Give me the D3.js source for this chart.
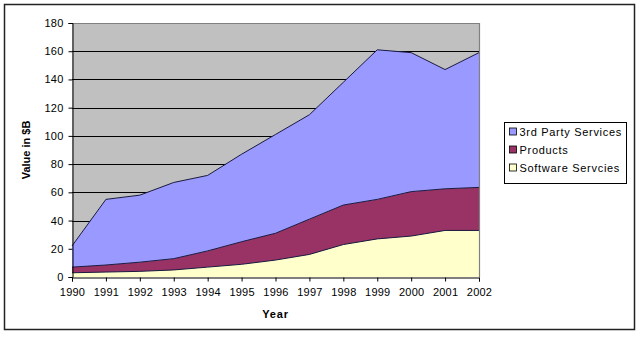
<!DOCTYPE html>
<html>
<head>
<meta charset="utf-8">
<script src="https://cdn.jsdelivr.net/npm/d3@7"></script>
<style>
  html, body { margin: 0; padding: 0; background: #fff; }
  svg { display: block; font-family: "Liberation Sans", Arial, sans-serif; }
</style>
</head>
<body>
<svg id="chart" width="640" height="337"></svg>
<script>
// Market value by segment, in $B
const years = [1990, 1991, 1992, 1993, 1994, 1995, 1996, 1997, 1998, 1999, 2000, 2001, 2002];
const softwareServices = [3, 3.5, 4, 5, 7, 9, 12, 16, 23, 27, 29, 33, 33];
const products = [4, 5, 6.5, 8, 11.5, 16, 19, 25, 28, 28, 31.5, 29.5, 30.5];
const thirdPartyServices = [15, 46.5, 47.5, 54, 53.5, 62, 70, 74, 87, 106, 98.5, 84.5, 95.5];
const yTicks = [0, 20, 40, 60, 80, 100, 120, 140, 160, 180];

const seriesNames = ["Software Servcies", "Products", "3rd Party Services"];
const seriesColors = ["#FFFFCC", "#993366", "#9999FF"];
const legendOrder = ["3rd Party Services", "Products", "Software Servcies"];

const rows = years.map((yr, i) => ({
  year: yr,
  "Software Servcies": softwareServices[i],
  "Products": products[i],
  "3rd Party Services": thirdPartyServices[i]
}));

const svg = d3.select("#chart");
const plotLeft = 72, plotRight = 479, plotTop = 23, plotBottom = 277;

const x = d3.scaleLinear().domain([years[0], years[years.length - 1]]).range([plotLeft, plotRight]);
const y = d3.scaleLinear().domain([0, 180]).range([plotBottom, plotTop]);
const color = d3.scaleOrdinal().domain(seriesNames).range(seriesColors);

// outer frame
svg.append("rect").attr("x", 4.5).attr("y", 4.5).attr("width", 630).attr("height", 325)
  .attr("fill", "#fff").attr("stroke", "#222").attr("stroke-width", 1.5);

// plot area
svg.append("rect").attr("x", plotLeft).attr("y", plotTop)
  .attr("width", plotRight - plotLeft).attr("height", plotBottom - plotTop)
  .attr("fill", "#C0C0C0");

// gridlines
svg.append("g").selectAll("line").data(yTicks.filter(t => t > 0 && t < 180)).join("line")
  .attr("x1", plotLeft).attr("x2", plotRight)
  .attr("y1", d => Math.round(y(d)) + 0.5).attr("y2", d => Math.round(y(d)) + 0.5)
  .attr("stroke", "#000").attr("stroke-width", 1);

// stacked areas
const stack = d3.stack().keys(seriesNames);
const layers = stack(rows);
const area = d3.area().x(d => x(d.data.year)).y0(d => y(d[0])).y1(d => y(d[1]));
const topLine = d3.line().x(d => x(d.data.year)).y(d => y(d[1]));

svg.append("g").selectAll("path").data(layers).join("path")
  .attr("d", area).attr("fill", d => color(d.key));
svg.append("g").selectAll("path").data(layers).join("path")
  .attr("d", topLine).attr("fill", "none").attr("stroke", "#1a1a40").attr("stroke-width", 1);

// plot border (top and right)
svg.append("path")
  .attr("d", `M${plotLeft},${plotTop + 0.5}H${plotRight + 0.5}V${plotBottom}`)
  .attr("fill", "none").attr("stroke", "#808080").attr("stroke-width", 1.2);

// axes
const yAxis = d3.axisLeft(y).tickValues(yTicks).tickSize(4).tickPadding(5);
const gy = svg.append("g").attr("transform", `translate(${plotLeft + 0.5},0)`).call(yAxis);
const xAxis = d3.axisBottom(x).tickValues(years).tickFormat(d3.format("d")).tickSize(4).tickPadding(7);
const gx = svg.append("g").attr("transform", `translate(0,${plotBottom + 0.5})`).call(xAxis);
[gy, gx].forEach(g => {
  g.select(".domain").attr("stroke", "#000");
  g.selectAll(".tick line").attr("stroke", "#000");
  g.selectAll("text").attr("font-size", 11).attr("fill", "#000").attr("letter-spacing", 0.2)
    .attr("font-family", "'Liberation Sans', Arial, sans-serif");
});

// axis titles
svg.append("text").attr("x", (plotLeft + plotRight) / 2).attr("y", 318).attr("text-anchor", "middle")
  .attr("font-size", 11).attr("font-weight", "bold").attr("letter-spacing", 0.8).text("Year");
svg.append("text").attr("transform", `translate(30,${(plotTop + plotBottom) / 2}) rotate(-90)`)
  .attr("text-anchor", "middle").attr("font-size", 11).attr("font-weight", "bold").text("Value in $B");

// legend
const lg = svg.append("g").attr("transform", "translate(504.5,122.5)");
lg.append("rect").attr("width", 122).attr("height", 61).attr("fill", "#fff").attr("stroke", "#000");
const items = lg.selectAll("g.item").data(legendOrder).join("g").attr("class", "item")
  .attr("transform", (d, i) => `translate(5,${9 + i * 18})`);
items.append("rect").attr("x", 0).attr("y", -3.5).attr("width", 7).attr("height", 7)
  .attr("fill", d => color(d)).attr("stroke", "#000").attr("stroke-width", 0.8);
items.append("text").attr("x", 10).attr("y", 4).attr("font-size", 11).attr("letter-spacing", 0.7)
  .text(d => d);
</script>
</body>
</html>
